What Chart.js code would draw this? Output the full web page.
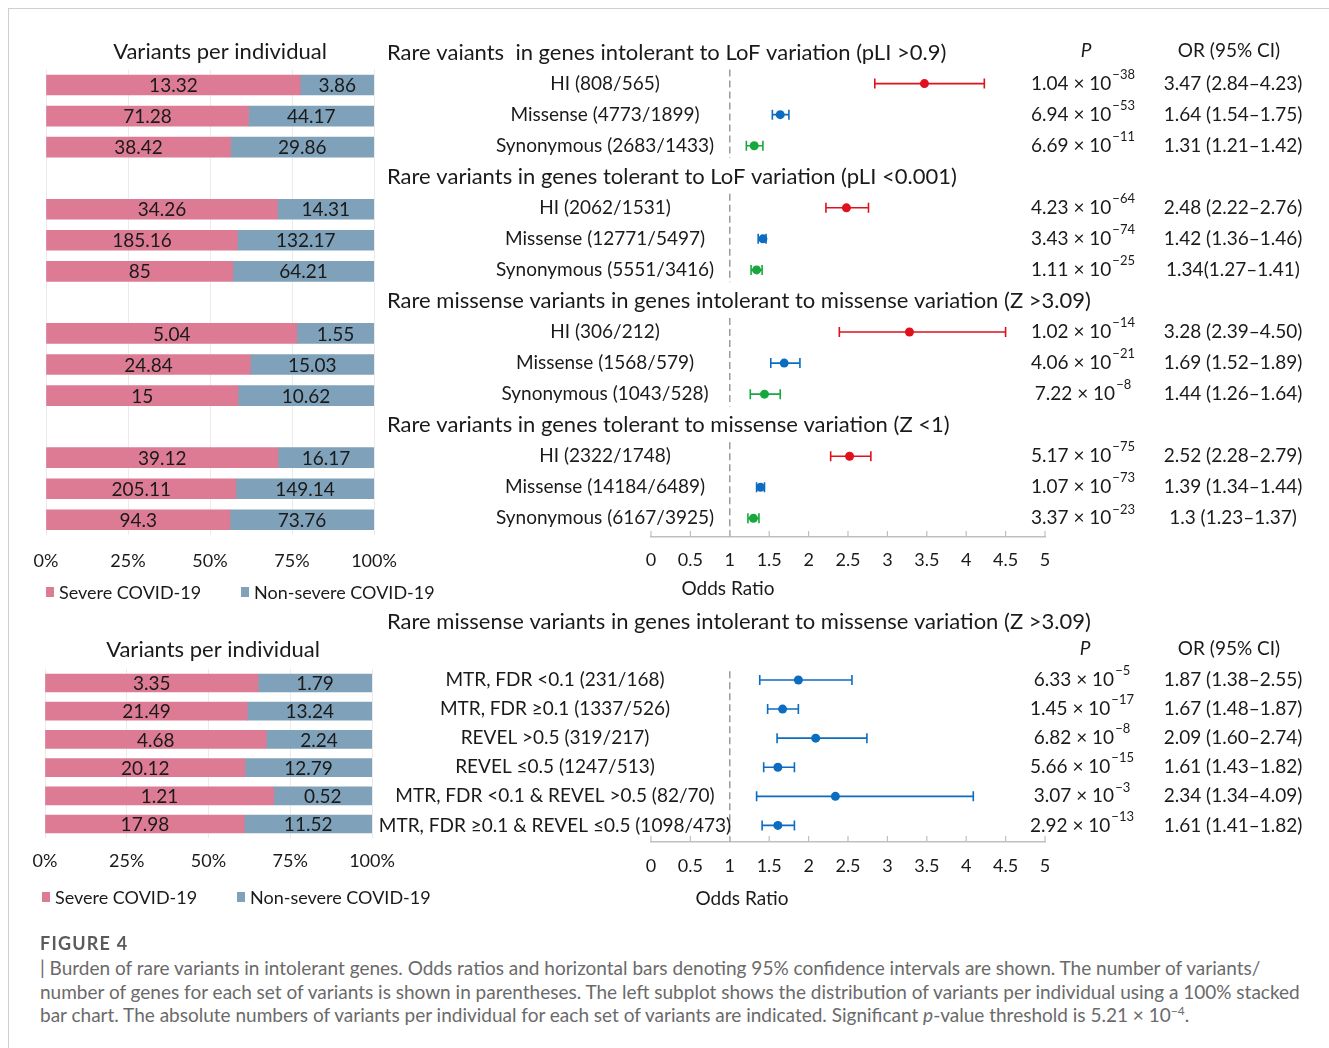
<!DOCTYPE html>
<html>
<head>
<meta charset="utf-8">
<title>Figure 4 - burden of rare variants</title>
<script src="https://cdn.jsdelivr.net/npm/chart.js@4.4.1/dist/chart.umd.min.js"></script>
<style>
  html, body { margin: 0; padding: 0; background: #fff; }
  body { position: relative; width: 1329px; height: 1048px; overflow: hidden; font-family: Lato, "Noto Sans", sans-serif; }
  .frame { position: absolute; left: 8px; top: 8px; width: 1321px; height: 1040px; border-top: 1px solid #cfcfcf; border-left: 1px solid #cfcfcf; }
  canvas { position: absolute; }
  #figLabel { position: absolute; left: 40px; top: 932px; font-size: 18px; font-weight: 700; color: #5b5b5b; letter-spacing: 1.2px; }
  .cap { position: absolute; left: 40px; font-size: 19px; color: #6a6a6a; white-space: nowrap; }
  .cap sup { font-size: 12px; }
</style>
</head>
<body>
<div class="frame"></div>
<canvas id="barsTop" width="440" height="610" style="left:0;top:0"></canvas>
<canvas id="forestTop" width="949" height="610" style="left:380px;top:0"></canvas>
<canvas id="barsBottom" width="440" height="340" style="left:0;top:600px"></canvas>
<canvas id="forestBottom" width="949" height="340" style="left:380px;top:600px"></canvas>

<div id="figLabel">FIGURE 4</div>
<div class="cap" style="top:956px">| Burden of rare variants in intolerant genes. Odds ratios and horizontal bars denoting 95% confidence intervals are shown. The number of variants/</div>
<div class="cap" style="top:980px">number of genes for each set of variants is shown in parentheses. The left subplot shows the distribution of variants per individual using a 100% stacked</div>
<div class="cap" style="top:1003px">bar chart. The absolute numbers of variants per individual for each set of variants are indicated. Significant <i>p</i>-value threshold is 5.21 × 10<sup>−4</sup>.</div>

<script>
// ======================================================
// DATA - upper panel (LoF / missense constraint groups)
// ======================================================
const GROUP_TITLES = [
    "Rare vaiants  in genes intolerant to LoF variation (pLI >0.9)",
    "Rare variants in genes tolerant to LoF variation (pLI <0.001)",
    "Rare missense variants in genes intolerant to missense variation (Z >3.09)",
    "Rare variants in genes tolerant to missense variation (Z <1)"
];
const ROW_LABELS_TOP = [
    "HI (808/565)", "Missense (4773/1899)", "Synonymous (2683/1433)",
    "HI (2062/1531)", "Missense (12771/5497)", "Synonymous (5551/3416)",
    "HI (306/212)", "Missense (1568/579)", "Synonymous (1043/528)",
    "HI (2322/1748)", "Missense (14184/6489)", "Synonymous (6167/3925)"
];
const SEVERE_TOP    = [13.32, 71.28, 38.42, 34.26, 185.16, 85, 5.04, 24.84, 15, 39.12, 205.11, 94.3];
const NONSEVERE_TOP = [3.86, 44.17, 29.86, 14.31, 132.17, 64.21, 1.55, 15.03, 10.62, 16.17, 149.14, 73.76];
const OR_TOP      = [3.47, 1.64, 1.31, 2.48, 1.42, 1.34, 3.28, 1.69, 1.44, 2.52, 1.39, 1.3];
const CI_LOW_TOP  = [2.84, 1.54, 1.21, 2.22, 1.36, 1.27, 2.39, 1.52, 1.26, 2.28, 1.34, 1.23];
const CI_HIGH_TOP = [4.23, 1.75, 1.42, 2.76, 1.46, 1.41, 4.50, 1.89, 1.64, 2.79, 1.44, 1.37];
const P_MANT_TOP = ["1.04", "6.94", "6.69", "4.23", "3.43", "1.11", "1.02", "4.06", "7.22", "5.17", "1.07", "3.37"];
const P_EXP_TOP  = [-38, -53, -11, -64, -74, -25, -14, -21, -8, -75, -73, -23];
const OR_TEXT_TOP = [
    "3.47 (2.84–4.23)", "1.64 (1.54–1.75)", "1.31 (1.21–1.42)",
    "2.48 (2.22–2.76)", "1.42 (1.36–1.46)", "1.34(1.27–1.41)",
    "3.28 (2.39–4.50)", "1.69 (1.52–1.89)", "1.44 (1.26–1.64)",
    "2.52 (2.28–2.79)", "1.39 (1.34–1.44)", "1.3 (1.23–1.37)"
];

// ======================================================
// DATA - lower panel (MTR / REVEL subsets)
// ======================================================
const TITLE_BOTTOM = "Rare missense variants in genes intolerant to missense variation (Z >3.09)";
const ROW_LABELS_BOTTOM = [
    "MTR, FDR <0.1 (231/168)", "MTR, FDR ≥0.1 (1337/526)", "REVEL >0.5 (319/217)",
    "REVEL ≤0.5 (1247/513)", "MTR, FDR <0.1 & REVEL >0.5 (82/70)", "MTR, FDR ≥0.1 & REVEL ≤0.5 (1098/473)"
];
const SEVERE_BOTTOM    = [3.35, 21.49, 4.68, 20.12, 1.21, 17.98];
const NONSEVERE_BOTTOM = [1.79, 13.24, 2.24, 12.79, 0.52, 11.52];
const OR_BOTTOM      = [1.87, 1.67, 2.09, 1.61, 2.34, 1.61];
const CI_LOW_BOTTOM  = [1.38, 1.48, 1.60, 1.43, 1.34, 1.41];
const CI_HIGH_BOTTOM = [2.55, 1.87, 2.74, 1.82, 4.09, 1.82];
const P_MANT_BOTTOM = ["6.33", "1.45", "6.82", "5.66", "3.07", "2.92"];
const P_EXP_BOTTOM  = [-5, -17, -8, -15, -3, -13];
const OR_TEXT_BOTTOM = [
    "1.87 (1.38–2.55)", "1.67 (1.48–1.87)", "2.09 (1.60–2.74)",
    "1.61 (1.43–1.82)", "2.34 (1.34–4.09)", "1.61 (1.41–1.82)"
];

const SERIES_NAMES = ["Severe COVID-19", "Non-severe COVID-19"];

// ======================================================
// STYLE
// ======================================================
const FONT = 'Lato, "Noto Sans", sans-serif';
const TEXT = "#1a1a1a";
const PINK = "#dd7b94";
const SLATE = "#7fa1b9";
const RED = "#e0101c", BLUE = "#0c6cc0", GREEN = "#16a83c";
const AXIS_GREY = "#bfbfbf";

const font = (size, style) => (style ? style + " " : "") + size + "px " + FONT;

// insert an empty slot between groups (room for the group heading)
function withGaps(values, perGroup) {
    const out = [];
    values.forEach((v, i) => {
        if (i > 0 && i % perGroup === 0) out.push(null);
        out.push(v);
    });
    return out;
}

// keep the plot area where the padding puts it (no auto room for edge labels)
function fixAxis(height) {
    return s => {
        s.height = height;
        s.paddingLeft = 0;
        s.paddingRight = 0;
    };
}

// ======================================================
// 100% STACKED BARS
// ======================================================
function barsLayer(cfg) {
    return {
        id: "barsLayer",
        afterDatasetsDraw(chart) {
            const ctx = chart.ctx;
            ctx.save();
            ctx.fillStyle = TEXT;
            ctx.textAlign = "center";
            ctx.textBaseline = "middle";
            ctx.font = font(19);
            chart.data.datasets.forEach((ds, di) => {
                chart.getDatasetMeta(di).data.forEach((bar, i) => {
                    const v = ds.values[i];
                    if (v == null) return;
                    ctx.fillText(String(v), (bar.x + bar.base) / 2, bar.y + 1);
                });
            });

            ctx.font = font(22);
            ctx.fillText("Variants per individual", cfg.titleX, cfg.titleY);

            // legend
            ctx.font = font(18);
            ctx.textAlign = "left";
            chart.data.datasets.forEach((ds, i) => {
                const lx = cfg.legendX[i];
                ctx.fillStyle = ds.backgroundColor;
                ctx.fillRect(lx, cfg.legendY - 5, 8, 10);
                ctx.fillStyle = TEXT;
                ctx.fillText(ds.label, lx + 13, cfg.legendY + 1);
            });
            ctx.restore();
        }
    };
}

function makeBars(id, severe, nonSevere, perGroup, cfg) {
    const sev = withGaps(severe, perGroup);
    const non = withGaps(nonSevere, perGroup);
    const share = (a, b) => (a == null ? null : (a / (a + b)) * 100);

    return new Chart(document.getElementById(id), {
        type: "bar",
        data: {
            labels: sev.map(() => ""),
            datasets: [
                { label: SERIES_NAMES[0], data: sev.map((v, i) => share(v, non[i])), values: sev,
                  backgroundColor: PINK, barThickness: cfg.barThickness },
                { label: SERIES_NAMES[1], data: non.map((v, i) => share(v, sev[i])), values: non,
                  backgroundColor: SLATE, barThickness: cfg.barThickness }
            ]
        },
        options: {
            indexAxis: "y",
            responsive: false,
            animation: false,
            layout: { padding: cfg.padding, autoPadding: false },
            plugins: { legend: { display: false }, tooltip: { enabled: false } },
            scales: {
                x: {
                    stacked: true, min: 0, max: 100,
                    ticks: { stepSize: 25, callback: v => v + "%", padding: cfg.tickPad,
                             color: TEXT, font: { family: FONT, size: 18 } },
                    grid: { color: "#ebebeb", drawTicks: false },
                    border: { display: false },
                    afterFit: fixAxis(cfg.axisH)
                },
                y: { stacked: true, display: false }
            }
        },
        plugins: [barsLayer(cfg)]
    });
}

// ======================================================
// FOREST PLOT
// ======================================================
function drawPValue(ctx, mant, exp, cx, cy) {
    const base = mant + " × 10";
    const sup = "−" + Math.abs(exp);
    ctx.font = font(19);
    const w1 = ctx.measureText(base).width;
    ctx.font = font(13);
    const w2 = ctx.measureText(sup).width;
    const x0 = cx - (w1 + w2 + 1) / 2;
    ctx.textAlign = "left";
    ctx.font = font(19);
    ctx.fillText(base, x0, cy);
    ctx.font = font(13);
    ctx.fillText(sup, x0 + w1 + 1, cy - 9);
}

function forestLayer(cfg) {
    const L = cfg.canvasLeft;
    return {
        id: "forestLayer",
        beforeDatasetsDraw(chart) {
            const { ctx, chartArea, scales: { x, y } } = chart;
            ctx.save();

            // dashed reference line at OR = 1
            const x1 = x.getPixelForValue(1);
            ctx.strokeStyle = "#8c8c8c";
            ctx.lineWidth = 1.3;
            ctx.setLineDash([7, 4]);
            cfg.refSpans.forEach(([a, b]) => {
                ctx.beginPath();
                ctx.moveTo(x1, y.getPixelForValue(a));
                ctx.lineTo(x1, b == null ? chartArea.bottom : y.getPixelForValue(b));
                ctx.stroke();
            });
            ctx.setLineDash([]);

            // 95% CI whiskers
            ctx.lineWidth = 1.6;
            cfg.lo.forEach((lo, i) => {
                const py = y.getPixelForValue(cfg.rowY[i]);
                const a = x.getPixelForValue(lo);
                const b = x.getPixelForValue(cfg.hi[i]);
                ctx.strokeStyle = cfg.colors[i];
                ctx.beginPath();
                ctx.moveTo(a, py); ctx.lineTo(b, py);
                ctx.moveTo(a, py - 5); ctx.lineTo(a, py + 5);
                ctx.moveTo(b, py - 5); ctx.lineTo(b, py + 5);
                ctx.stroke();
            });
            ctx.restore();
        },
        afterDraw(chart) {
            const { ctx, chartArea, scales: { x, y } } = chart;
            ctx.save();

            // tick marks point up into the plot
            ctx.strokeStyle = AXIS_GREY;
            ctx.lineWidth = 1.2;
            x.ticks.forEach(t => {
                const px = x.getPixelForValue(t.value);
                ctx.beginPath();
                ctx.moveTo(px, chartArea.bottom);
                ctx.lineTo(px, chartArea.bottom - 6);
                ctx.stroke();
            });

            ctx.fillStyle = TEXT;
            ctx.textBaseline = "middle";

            // group headings
            ctx.font = font(22);
            ctx.textAlign = "left";
            cfg.headings.forEach(h => ctx.fillText(h.text, h.x - L, y.getPixelForValue(h.slot)));

            // column headers
            const hy = y.getPixelForValue(cfg.headerSlot);
            ctx.textAlign = "center";
            ctx.font = font(19, "italic");
            ctx.fillText("P", cfg.pX - L + 3, hy - 2);
            ctx.font = font(19);
            ctx.fillText("OR (95% CI)", cfg.orX - L - 4, hy - 2);

            // row labels, p values, OR text
            cfg.labels.forEach((lab, i) => {
                const py = y.getPixelForValue(cfg.rowY[i]);
                ctx.textAlign = "center";
                ctx.font = font(19);
                ctx.fillText(lab, cfg.labelX - L, py);
                ctx.fillText(cfg.orText[i], cfg.orX - L, py);
                drawPValue(ctx, cfg.pMant[i], cfg.pExp[i], cfg.pX - L, py);
            });

            // axis title
            ctx.textAlign = "center";
            ctx.font = font(19);
            ctx.fillText("Odds Ratio", cfg.axisTitle.x - L, cfg.axisTitle.y);
            ctx.restore();
        }
    };
}

function makeForest(id, cfg) {
    const points = cfg.or.map((v, i) => ({ x: v, y: cfg.rowY[i] }));
    return new Chart(document.getElementById(id), {
        type: "scatter",
        data: {
            datasets: [{
                data: points,
                pointRadius: 4.5,
                pointBackgroundColor: cfg.colors,
                pointBorderColor: cfg.colors,
                pointBorderWidth: 0
            }]
        },
        options: {
            responsive: false,
            animation: false,
            layout: { padding: cfg.padding, autoPadding: false },
            plugins: { legend: { display: false }, tooltip: { enabled: false } },
            scales: {
                x: {
                    min: 0, max: 5,
                    ticks: { stepSize: 0.5, callback: v => v, padding: cfg.tickPad,
                             color: TEXT, font: { family: FONT, size: 18 } },
                    grid: { display: false, drawTicks: false },
                    border: { color: AXIS_GREY, width: 1.5 },
                    afterFit: fixAxis(cfg.axisH)
                },
                y: { display: false, reverse: true, min: cfg.yMin, max: cfg.yMax }
            }
        },
        plugins: [forestLayer(cfg)]
    });
}

// ======================================================
// BUILD
// ======================================================
const KIND_COLORS = [RED, BLUE, GREEN];

makeBars("barsTop", SEVERE_TOP, NONSEVERE_TOP, 3, {
    padding: { left: 46, right: 66, top: 69.5, bottom: 14.7 },
    axisH: 60, tickPad: 15, barThickness: 20,
    titleX: 220, titleY: 52,
    legendX: [46, 241], legendY: 592
});

makeBars("barsBottom", SEVERE_BOTTOM, NONSEVERE_BOTTOM, 6, {
    padding: { left: 45, right: 68, top: 68.9, bottom: 41.9 },
    axisH: 60, tickPad: 12.5, barThickness: 18,
    titleX: 213, titleY: 50,
    legendX: [42, 237], legendY: 297
});

makeForest("forestTop", {
    canvasLeft: 380,
    padding: { left: 271, right: 284, top: 37, bottom: 3 },
    axisH: 70, tickPad: 12,
    yMin: -1.5, yMax: 14.6,
    rowY: OR_TOP.map((_, i) => Math.floor(i / 3) * 4 + (i % 3)),
    colors: OR_TOP.map((_, i) => KIND_COLORS[i % 3]),
    or: OR_TOP, lo: CI_LOW_TOP, hi: CI_HIGH_TOP,
    labels: ROW_LABELS_TOP, orText: OR_TEXT_TOP, pMant: P_MANT_TOP, pExp: P_EXP_TOP,
    headings: GROUP_TITLES.map((t, g) => ({ text: t, x: 387, slot: g * 4 - 1 })),
    headerSlot: -1,
    refSpans: [[-0.45, 2.4], [3.55, 6.4], [7.55, 10.4], [11.55, null]],
    labelX: 605, pX: 1083, orX: 1233,
    axisTitle: { x: 728, y: 589 }
});

makeForest("forestBottom", {
    canvasLeft: 380,
    padding: { left: 271, right: 284, top: 7.25, bottom: 18 },
    axisH: 80, tickPad: 13.6,
    yMin: -2.5, yMax: 5.57,
    rowY: OR_BOTTOM.map((_, i) => i),
    colors: OR_BOTTOM.map(() => BLUE),
    or: OR_BOTTOM, lo: CI_LOW_BOTTOM, hi: CI_HIGH_BOTTOM,
    labels: ROW_LABELS_BOTTOM, orText: OR_TEXT_BOTTOM, pMant: P_MANT_BOTTOM, pExp: P_EXP_BOTTOM,
    headings: [{ text: TITLE_BOTTOM, x: 387, slot: -2 }],
    headerSlot: -1,
    refSpans: [[-0.3, null]],
    labelX: 555, pX: 1082, orX: 1233,
    axisTitle: { x: 742, y: 299 }
});
</script>
</body>
</html>
